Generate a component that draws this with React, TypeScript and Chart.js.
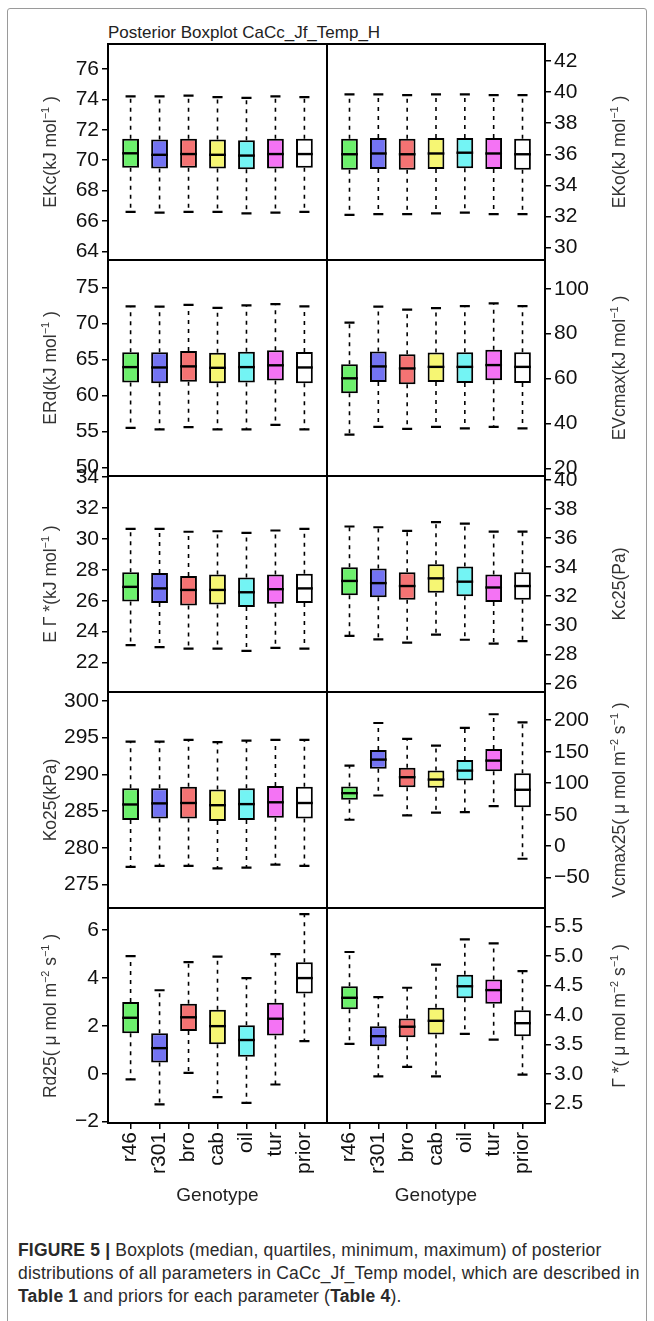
import React, { useEffect, useRef } from 'react';
import { Chart, registerables } from 'chart.js';

Chart.register(...registerables);

// ---------- data ----------
const genotypes = ['r46', 'r301', 'bro', 'cab', 'oil', 'tur', 'prior'];
const boxColors = ['#6cf06c', '#7373f2', '#f47373', '#f6f673', '#73f4f4', '#f473f4', '#ffffff'];

// EKc (kJ mol-1)
const ekcTicks = [64, 66, 68, 70, 72, 74, 76];
const ekcMin = [66.6, 66.55, 66.6, 66.6, 66.5, 66.55, 66.6];
const ekcQ1 = [69.5, 69.45, 69.5, 69.45, 69.4, 69.45, 69.5];
const ekcMed = [70.45, 70.35, 70.4, 70.35, 70.3, 70.4, 70.4];
const ekcQ3 = [71.4, 71.35, 71.4, 71.35, 71.3, 71.4, 71.4];
const ekcMax = [74.2, 74.2, 74.25, 74.15, 74.1, 74.2, 74.15];

// EKo (kJ mol-1)
const ekoTicks = [30, 32, 34, 36, 38, 40, 42];
const ekoMin = [32.1, 32.15, 32.15, 32.2, 32.25, 32.15, 32.15];
const ekoQ1 = [35.0, 35.05, 35.0, 35.05, 35.1, 35.05, 35.0];
const ekoMed = [36.0, 36.05, 36.0, 36.05, 36.1, 36.05, 36.0];
const ekoQ3 = [37.0, 37.05, 37.0, 37.05, 37.05, 37.05, 37.0];
const ekoMax = [39.85, 39.85, 39.8, 39.85, 39.85, 39.8, 39.8];

// ERd (kJ mol-1)
const erdTicks = [50, 55, 60, 65, 70, 75];
const erdMin = [55.5, 55.3, 55.6, 55.3, 55.3, 55.9, 55.3];
const erdQ1 = [61.8, 61.7, 61.9, 61.7, 61.8, 62.1, 61.7];
const erdMed = [63.95, 63.9, 64.05, 63.85, 63.95, 64.2, 63.9];
const erdQ3 = [66.0, 66.0, 66.2, 65.95, 66.1, 66.3, 66.05];
const erdMax = [72.4, 72.35, 72.6, 72.2, 72.55, 72.7, 72.4];

// EVcmax (kJ mol-1)
const evcTicks = [20, 40, 60, 80, 100];
const evcMin = [35.0, 38.5, 37.6, 38.5, 37.8, 38.5, 37.8];
const evcQ1 = [53.4, 58.5, 57.5, 58.5, 58.0, 59.2, 58.0];
const evcMed = [60.1, 65.4, 64.5, 65.2, 65.2, 66.0, 65.2];
const evcQ3 = [66.4, 72.0, 70.8, 71.6, 71.7, 72.8, 71.7];
const evcMax = [84.9, 92.0, 90.7, 91.4, 92.3, 93.5, 92.3];

// E Gamma* (kJ mol-1)
const egsTicks = [22, 24, 26, 28, 30, 32, 34];
const egsMin = [23.13, 23.0, 22.9, 22.9, 22.75, 22.95, 22.9];
const egsQ1 = [25.95, 25.85, 25.7, 25.75, 25.6, 25.8, 25.85];
const egsMed = [26.9, 26.8, 26.7, 26.7, 26.55, 26.75, 26.8];
const egsQ3 = [27.85, 27.8, 27.6, 27.7, 27.5, 27.7, 27.75];
const egsMax = [30.65, 30.65, 30.47, 30.5, 30.4, 30.55, 30.65];

// Kc25 (Pa)
const kcTicks = [26, 28, 30, 32, 34, 36, 38, 40];
const kcMin = [29.26, 29.03, 28.8, 29.35, 29.0, 28.73, 28.9];
const kcQ1 = [32.07, 31.93, 31.75, 32.23, 32.0, 31.6, 31.75];
const kcMed = [33.05, 32.9, 32.7, 33.23, 33.0, 32.6, 32.7];
const kcQ3 = [34.0, 33.9, 33.65, 34.2, 34.05, 33.5, 33.65];
const kcMax = [36.8, 36.75, 36.5, 37.1, 37.0, 36.45, 36.45];

// Ko25 (kPa)
const koTicks = [275, 280, 285, 290, 295, 300];
const koMin = [277.4, 277.55, 277.55, 277.2, 277.3, 277.7, 277.55];
const koQ1 = [283.8, 284.0, 284.0, 283.65, 283.8, 284.1, 284.0];
const koMed = [285.9, 286.05, 286.1, 285.8, 285.95, 286.2, 286.1];
const koQ3 = [288.1, 288.1, 288.3, 287.95, 288.1, 288.4, 288.3];
const koMax = [294.45, 294.45, 294.7, 294.4, 294.6, 294.7, 294.7];

// Vcmax25 (umol m-2 s-1)
const vcTicks = [-50, 0, 50, 100, 150, 200];
const vcMin = [42, 80.5, 48.9, 53.2, 54.1, 63.6, -19.9];
const vcQ1 = [73.7, 122.8, 93.7, 92.7, 104.3, 119, 62];
const vcMed = [84.2, 137.5, 109.5, 105.8, 120, 135.9, 89.6];
const vcQ3 = [94.8, 152.8, 124.4, 120, 137, 154.4, 115.8];
const vcMax = [128, 195.6, 170.3, 159.7, 187.7, 209.5, 196.5];

// Rd25 (umol m-2 s-1)
const rdTicks = [-2, 0, 2, 4, 6];
const rdMin = [-0.24, -1.28, 0.04, -0.98, -1.22, -0.45, 1.36];
const rdQ1 = [1.69, 0.47, 1.79, 1.23, 0.71, 1.6, 3.35];
const rdMed = [2.34, 1.07, 2.36, 1.99, 1.41, 2.3, 4.0];
const rdQ3 = [3.0, 1.69, 2.93, 2.68, 2.03, 2.97, 4.66];
const rdMax = [4.92, 3.49, 4.67, 4.9, 4.0, 5.0, 6.67];

// Gamma* (umol m-2 s-1)
const gsTicks = [2.5, 3.0, 3.5, 4.0, 4.5, 5.0, 5.5];
const gsMin = [3.51, 2.96, 3.12, 2.96, 3.68, 3.58, 2.99];
const gsQ1 = [4.095, 3.47, 3.62, 3.67, 4.28, 4.19, 3.64];
const gsMed = [4.29, 3.64, 3.8, 3.9, 4.485, 4.42, 3.86];
const gsQ3 = [4.485, 3.81, 3.94, 4.12, 4.68, 4.6, 4.08];
const gsMax = [5.065, 4.3, 4.46, 4.85, 5.28, 5.21, 4.74];

// ---------- layout ----------
const FONT = "'Liberation Sans', Arial, Helvetica, sans-serif";
const rowTops = [44, 260, 476, 692, 908];
const rowBottoms = [260, 476, 692, 908, 1123];
const PAD = 16;
const XAXIS_H = 70;

const sup = (s: string) => (
  <sup style={{ fontSize: '0.62em', verticalAlign: '0.6em', lineHeight: 0 }}>{s}</sup>
);

type Panel = {
  row: number;
  side: 'left' | 'right';
  min: number;
  max: number;
  ticks: number[];
  dec: number;
  lo: number[];
  q1: number[];
  med: number[];
  q3: number[];
  hi: number[];
  title: React.ReactNode;
};

const umol = <>( μ mol m{sup('−2')} s{sup('−1')} )</>;
const kj = <>(kJ mol{sup('−1')} )</>;

const panels: Panel[] = [
  { row: 0, side: 'left', min: 63.43, max: 77.64, ticks: ekcTicks, dec: 0, lo: ekcMin, q1: ekcQ1, med: ekcMed, q3: ekcQ3, hi: ekcMax, title: <>EKc{kj}</> },
  { row: 0, side: 'right', min: 29.2, max: 43.09, ticks: ekoTicks, dec: 0, lo: ekoMin, q1: ekoQ1, med: ekoMed, q3: ekoQ3, hi: ekoMax, title: <>EKo{kj}</> },
  { row: 1, side: 'left', min: 48.8, max: 78.85, ticks: erdTicks, dec: 0, lo: erdMin, q1: erdQ1, med: erdMed, q3: erdQ3, hi: erdMax, title: <>ERd{kj}</> },
  { row: 1, side: 'right', min: 16.6, max: 112.8, ticks: evcTicks, dec: 0, lo: evcMin, q1: evcQ1, med: evcMed, q3: evcQ3, hi: evcMax, title: <>EVcmax{kj}</> },
  { row: 2, side: 'left', min: 20.09, max: 34.08, ticks: egsTicks, dec: 0, lo: egsMin, q1: egsQ1, med: egsMed, q3: egsQ3, hi: egsMax, title: <>E Γ *{kj}</> },
  { row: 2, side: 'right', min: 25.4, max: 40.28, ticks: kcTicks, dec: 0, lo: kcMin, q1: kcQ1, med: kcMed, q3: kcQ3, hi: kcMax, title: <>Kc25(Pa)</> },
  { row: 3, side: 'left', min: 271.8, max: 301.22, ticks: koTicks, dec: 0, lo: koMin, q1: koQ1, med: koMed, q3: koQ3, hi: koMax, title: <>Ko25(kPa)</> },
  { row: 3, side: 'right', min: -98.1, max: 244.8, ticks: vcTicks, dec: 0, lo: vcMin, q1: vcQ1, med: vcMed, q3: vcQ3, hi: vcMax, title: <>Vcmax25{umol}</> },
  { row: 4, side: 'left', min: -2.06, max: 6.93, ticks: rdTicks, dec: 0, lo: rdMin, q1: rdQ1, med: rdMed, q3: rdQ3, hi: rdMax, title: <>Rd25{umol}</> },
  { row: 4, side: 'right', min: 2.17, max: 5.81, ticks: gsTicks, dec: 1, lo: gsMin, q1: gsQ1, med: gsMed, q3: gsQ3, hi: gsMax, title: <>Γ *{umol}</> },
];

const fmt = (v: number, dec: number) => {
  const s = Number(v).toFixed(dec);
  return s.replace('-', '−');
};

function whiskerPlugin(p: Panel) {
  return {
    id: 'boxWhisker',
    afterDatasetsDraw(chart: any) {
      const ctx = chart.ctx as CanvasRenderingContext2D;
      const ys = chart.scales.y;
      const meta = chart.getDatasetMeta(0);
      ctx.save();
      ctx.strokeStyle = '#000';
      meta.data.forEach((bar: any, i: number) => {
        const { x, width } = bar.getProps(['x', 'width'], true);
        const pHi = ys.getPixelForValue(p.hi[i]);
        const pQ3 = ys.getPixelForValue(p.q3[i]);
        const pQ1 = ys.getPixelForValue(p.q1[i]);
        const pLo = ys.getPixelForValue(p.lo[i]);
        const pMed = ys.getPixelForValue(p.med[i]);
        // dashed whiskers
        ctx.setLineDash([4, 5]);
        ctx.lineWidth = 1.6;
        ctx.beginPath();
        ctx.moveTo(x, pQ3);
        ctx.lineTo(x, pHi);
        ctx.moveTo(x, pQ1);
        ctx.lineTo(x, pLo);
        ctx.stroke();
        // staples
        ctx.setLineDash([]);
        ctx.lineWidth = 2.2;
        const sw = width * 0.3;
        ctx.beginPath();
        ctx.moveTo(x - sw, pHi);
        ctx.lineTo(x + sw, pHi);
        ctx.moveTo(x - sw, pLo);
        ctx.lineTo(x + sw, pLo);
        ctx.stroke();
        // median
        ctx.lineWidth = 2.4;
        ctx.beginPath();
        ctx.moveTo(x - width / 2, pMed);
        ctx.lineTo(x + width / 2, pMed);
        ctx.stroke();
      });
      const a = chart.chartArea;
      ctx.lineWidth = 2;
      ctx.strokeRect(a.left, a.top, a.right - a.left, a.bottom - a.top);
      ctx.restore();
    },
  };
}

function PanelChart({ p }: { p: Panel }) {
  const ref = useRef<HTMLCanvasElement>(null);
  const bottomRow = p.row === 4;
  const isLeft = p.side === 'left';
  const left = isLeft ? 0 : 324;
  const width = 330;
  const top = rowTops[p.row] - PAD;
  const height = rowBottoms[p.row] - rowTops[p.row] + PAD + (bottomRow ? XAXIS_H : PAD);

  useEffect(() => {
    const tickFont = { family: FONT, size: 21 };
    const chart = new Chart(ref.current as HTMLCanvasElement, {
      type: 'bar',
      data: {
        datasets: [
          {
            data: genotypes.map((_, i) => ({ x: i + 1, y: [p.q1[i], p.q3[i]] })) as any,
            backgroundColor: boxColors,
            borderColor: '#000',
            borderWidth: 2,
            borderSkipped: false,
            barPercentage: 0.58,
            categoryPercentage: 1,
          } as any,
        ],
      },
      options: {
        animation: false,
        responsive: false,
        maintainAspectRatio: false,
        devicePixelRatio: 1,
        events: [],
        layout: {
          padding: {
            left: isLeft ? 0 : 3,
            right: isLeft ? 3 : 0,
            top: PAD,
            bottom: bottomRow ? 0 : PAD,
          },
        },
        plugins: {
          legend: { display: false },
          tooltip: { enabled: false },
          title: { display: false },
        },
        scales: {
          x: {
            type: 'linear',
            min: 0.22,
            max: 7.78,
            offset: false,
            display: bottomRow,
            position: 'bottom',
            grid: {
              display: true,
              drawOnChartArea: false,
              drawTicks: true,
              tickLength: 6,
              color: '#000',
              lineWidth: 1.5,
              offset: false,
            },
            border: { display: false },
            ticks: {
              autoSkip: false,
              minRotation: 90,
              maxRotation: 90,
              padding: 3,
              font: tickFont,
              color: '#111',
              callback: (v: any) => genotypes[Math.round(Number(v)) - 1] ?? '',
            },
            afterBuildTicks: (s: any) => {
              s.ticks = genotypes.map((_, i) => ({ value: i + 1 }));
            },
            afterFit: (s: any) => {
              s.paddingLeft = 0;
              s.paddingRight = 0;
              if (bottomRow) s.height = XAXIS_H;
            },
          } as any,
          y: {
            type: 'linear',
            position: p.side,
            min: p.min,
            max: p.max,
            grid: {
              display: true,
              drawOnChartArea: false,
              drawTicks: true,
              tickLength: 6,
              color: '#000',
              lineWidth: 1.5,
            },
            border: { display: false },
            ticks: {
              autoSkip: false,
              padding: 3,
              font: tickFont,
              color: '#111',
              callback: (v: any) => fmt(Number(v), p.dec),
            },
            afterBuildTicks: (s: any) => {
              s.ticks = p.ticks.map((v) => ({ value: v }));
            },
            afterFit: (s: any) => {
              s.width = isLeft ? 108 : 109;
              s.paddingTop = 0;
              s.paddingBottom = 0;
            },
          } as any,
        },
      },
      plugins: [whiskerPlugin(p)],
    });
    return () => chart.destroy();
  }, []);

  return (
    <canvas
      ref={ref}
      width={width}
      height={height}
      style={{ position: 'absolute', left, top, width, height }}
    />
  );
}

function Txt({
  x,
  y,
  children,
  size,
  rotate,
  color = '#333',
  center = true,
  extra = {},
}: {
  x: number;
  y: number;
  children: React.ReactNode;
  size: number;
  rotate?: boolean;
  color?: string;
  center?: boolean;
  extra?: React.CSSProperties;
}) {
  return (
    <div
      style={{
        position: 'absolute',
        left: x,
        top: y,
        fontFamily: FONT,
        fontSize: size,
        color,
        whiteSpace: 'nowrap',
        lineHeight: 1.2,
        transform: `translate(${center ? '-50%' : '0'}, -50%)${rotate ? ' rotate(-90deg)' : ''}`,
        ...extra,
      }}
    >
      {children}
    </div>
  );
}

export default function App() {
  return (
    <div
      style={{
        position: 'absolute',
        left: 0,
        top: 0,
        width: 654,
        height: 1321,
        overflow: 'hidden',
        background: '#fff',
      }}
    >
      <div
        style={{
          position: 'absolute',
          left: 7,
          top: 8,
          width: 638,
          height: 1340,
          border: '1.5px solid #9a9a9a',
          borderRadius: 3,
        }}
      />
      <Txt x={108} y={33} size={17} color="#222" center={false}>
        Posterior Boxplot CaCc_Jf_Temp_H
      </Txt>
      {panels.map((p, i) => (
        <PanelChart key={i} p={p} />
      ))}
      {panels.map((p, i) => (
        <Txt
          key={'t' + i}
          x={p.side === 'left' ? 50 : 619}
          y={(rowTops[p.row] + rowBottoms[p.row]) / 2}
          size={17.5}
          rotate
          color="#333"
        >
          {p.title}
        </Txt>
      ))}
      <Txt x={217.5} y={1195} size={19} color="#222">
        Genotype
      </Txt>
      <Txt x={436} y={1195} size={19} color="#222">
        Genotype
      </Txt>
      <Txt x={18} y={1250} size={17.5} color="#2a2a2a" center={false} extra={{ letterSpacing: '0.18px' }}>
        <b>FIGURE 5 |</b> Boxplots (median, quartiles, minimum, maximum) of posterior
      </Txt>
      <Txt x={18} y={1273} size={17.5} color="#2a2a2a" center={false} extra={{ letterSpacing: '0.18px' }}>
        distributions of all parameters in CaCc_Jf_Temp model, which are described in
      </Txt>
      <Txt x={18} y={1296} size={17.5} color="#2a2a2a" center={false} extra={{ letterSpacing: '0.18px' }}>
        <b>Table 1</b> and priors for each parameter (<b>Table 4</b>).
      </Txt>
    </div>
  );
}
